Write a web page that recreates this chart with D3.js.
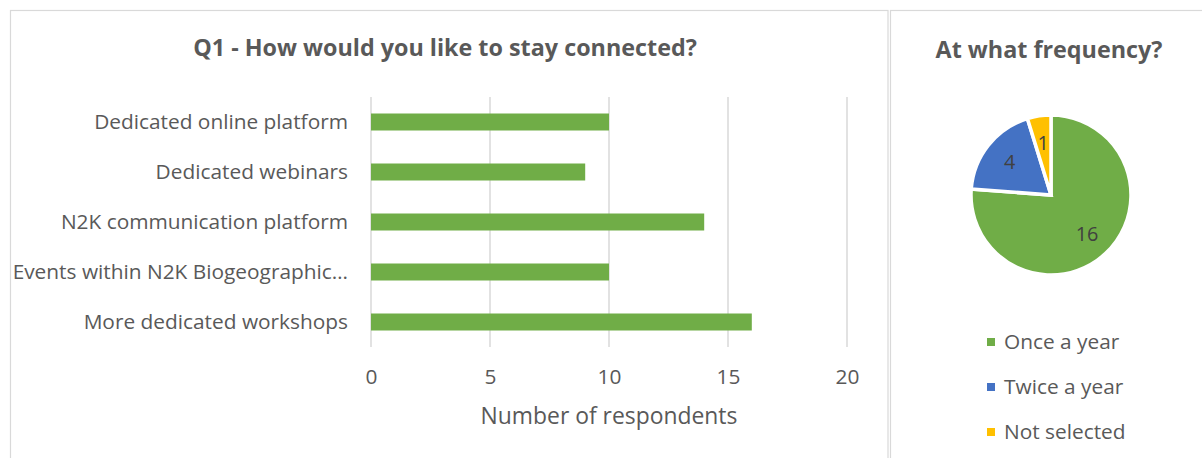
<!DOCTYPE html>
<html><head><meta charset="utf-8">
<script src="https://cdn.jsdelivr.net/npm/d3@7"></script>
<style>body{margin:0;background:#fff}svg{display:block}text{font-family:"Open Sans",Lato,sans-serif;fill:#595959}</style>
</head><body>
<svg id="c" width="1202" height="458"></svg>
<script>
const categories = ["Dedicated online platform","Dedicated webinars","N2K communication platform","Events within N2K Biogeographic…","More dedicated workshops"];
const respondents = [10, 9, 14, 10, 16];
const xTicks = [0, 5, 10, 15, 20];
const freqLabels = ["Once a year","Twice a year","Not selected"];
const freqValues = [16, 4, 1];
const freqColors = ["#70AD47","#4472C4","#FFC000"];

const svg = d3.select("#c");
// fit font size so that a text node reaches a target width
function fitSize(textSel, target, base){
  const n = textSel.node();
  n.style.fontSize = base + "px";
  const w = n.getComputedTextLength();
  return base * target / w;
}

// panel borders
svg.append("rect").attr("x",10.5).attr("y",10.5).attr("width",877.5).attr("height",480)
  .attr("fill","none").attr("stroke","#D9D9D9").attr("stroke-width",1.2);
svg.append("rect").attr("x",890.5).attr("y",10.5).attr("width",400).attr("height",480)
  .attr("fill","none").attr("stroke","#D9D9D9").attr("stroke-width",1.2);

// ---- Bar chart ----
const t1 = svg.append("text").attr("x",445).attr("y",56).attr("text-anchor","middle")
  .style("font-weight","bold").text("Q1 - How would you like to stay connected?");
t1.style("font-size", fitSize(t1, 504, 20) + "px");

const x = d3.scaleLinear().domain([0,20]).range([371,847]);
const y = d3.scaleBand().domain(categories).range([97,347]).paddingInner(0.66).paddingOuter(0.33);

svg.append("g").selectAll("line").data(xTicks).join("line")
  .attr("x1",d=>x(d)).attr("x2",d=>x(d)).attr("y1",97).attr("y2",347)
  .attr("stroke","#D9D9D9").attr("stroke-width",1.5);

svg.append("g").selectAll("rect").data(categories).join("rect")
  .attr("x",x(0)).attr("y",d=>y(d)).attr("height",y.bandwidth())
  .attr("width",(d,i)=>x(respondents[i])-x(0)).attr("fill","#70AD47");

const yAxis = svg.append("g").attr("transform","translate(371,0)")
  .call(d3.axisLeft(y).tickSize(0).tickPadding(23));
yAxis.select(".domain").remove();
yAxis.selectAll("text").attr("font-family",null).attr("font-size",null).attr("fill","#595959");
const catSize = fitSize(yAxis.select("text"), 254, 18);
yAxis.selectAll("text").style("font-size", catSize + "px");

const xAxis = svg.append("g").attr("transform","translate(0,347)")
  .call(d3.axisBottom(x).tickValues(xTicks).tickSize(0).tickPadding(22));
xAxis.select(".domain").remove();
xAxis.selectAll("text").attr("font-family",null).attr("font-size",null).attr("fill","#595959")
  .style("font-size", catSize + "px");

const xt = svg.append("text").attr("x",609).attr("y",424).attr("text-anchor","middle")
  .text("Number of respondents");
xt.style("font-size", fitSize(xt, 257, 20) + "px");

// ---- Pie chart ----
const t2 = svg.append("text").attr("x",1049).attr("y",58).attr("text-anchor","middle")
  .style("font-weight","bold").text("At what frequency?");
t2.style("font-size", fitSize(t2, 227, 20) + "px");

const cx = 1051, cy = 195, r = 80;
const pie = d3.pie().sort(null).value(d=>d)(freqValues);
const arc = d3.arc().innerRadius(0).outerRadius(r);
const pg = svg.append("g").attr("transform",`translate(${cx},${cy})`);
pg.selectAll("path").data(pie).join("path")
  .attr("d",arc).attr("fill",(d,i)=>freqColors[i])
  .attr("stroke","#fff").attr("stroke-width",3.5).attr("stroke-linejoin","miter");
const labelArc = d3.arc().innerRadius(53).outerRadius(53);
pg.selectAll("text").data(pie).join("text")
  .attr("x",d=>labelArc.centroid(d)[0])
  .attr("y",d=>labelArc.centroid(d)[1])
  .attr("text-anchor","middle").attr("dy","0.35em")
  .style("font-size",(catSize*0.95)+"px").style("fill","#404040").text(d=>d.data);

const lg = svg.append("g");
freqLabels.forEach((l,i)=>{
  const yy = 342 + i*45;
  lg.append("rect").attr("x",987).attr("y",yy-4).attr("width",8).attr("height",8).attr("fill",freqColors[i]);
  lg.append("text").attr("x",1004).attr("y",yy).attr("dy","0.35em").style("font-size",catSize+"px").text(l);
});
</script>
</body></html>
